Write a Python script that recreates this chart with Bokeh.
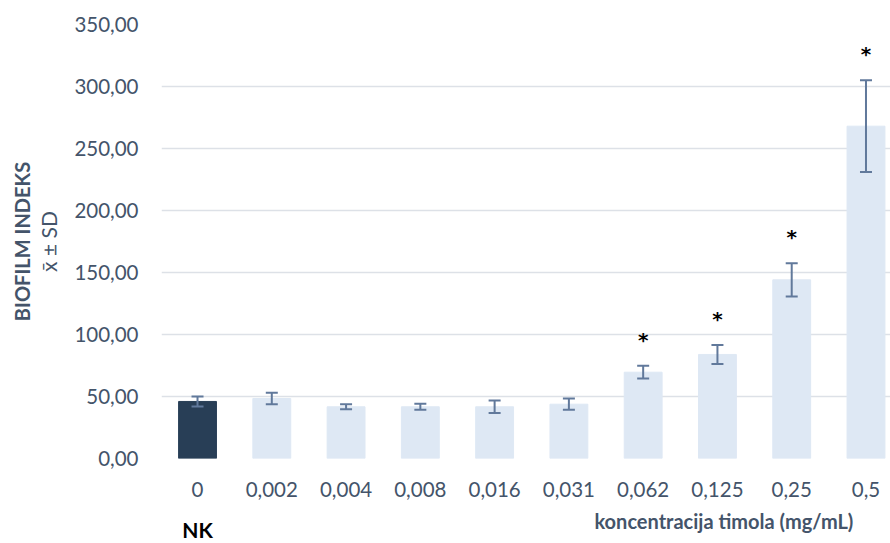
from bokeh.plotting import figure
from bokeh.layouts import column
from bokeh.models import (ColumnDataSource, Range1d, FixedTicker, Whisker, TeeHead,
                          LinearAxis, CustomJSTickFormatter)
from bokeh.core.properties import value
from bokeh.embed import file_html
from bokeh.resources import INLINE

# ---- data ----
categories = ["0", "0,002", "0,004", "0,008", "0,016", "0,031", "0,062", "0,125", "0,25", "0,5"]
means = [46.0, 48.4, 41.7, 41.7, 41.7, 43.8, 69.6, 83.9, 144.1, 268.0]
sds = [4.0, 4.6, 2.0, 2.4, 5.0, 4.5, 5.1, 7.6, 13.4, 37.0]
significant = [False, False, False, False, False, False, True, True, True, True]
y_ticks = [0, 50, 100, 150, 200, 250, 300, 350]

FONT = "Lato"
TXT = "#44546A"
DARK = "#283E56"
LIGHT = "#DEE8F4"
ERR = "#61799B"

xs = list(range(len(categories)))
colors = [DARK] + [LIGHT] * (len(categories) - 1)
src = ColumnDataSource(dict(
    x=xs, top=means, color=colors,
    upper=[m + s for m, s in zip(means, sds)],
    lower=[m - s for m, s in zip(means, sds)],
))
star_src = ColumnDataSource(dict(
    x=[x for x, s in zip(xs, significant) if s],
    y=[m + sd for m, sd, s in zip(means, sds, significant) if s],
    t=["*" for s in significant if s],
))

x_range = Range1d(-0.485, 9.33)
p = figure(width=890, height=505, output_backend="svg", toolbar_location=None,
           x_range=x_range, y_range=Range1d(0, 350),
           min_border_left=161, min_border_right=0, min_border_top=24, min_border_bottom=47)
p.outline_line_color = None

p.vbar(x="x", top="top", width=0.51, color="color", source=src)
p.add_layout(Whisker(source=src, base="x", upper="upper", lower="lower", level="overlay",
                     line_color=ERR, line_width=2,
                     upper_head=TeeHead(size=12, line_color=ERR, line_width=2),
                     lower_head=TeeHead(size=12, line_color=ERR, line_width=2)))
p.text(x="x", y="y", text="t", source=star_src, text_font=value("DejaVu Sans"),
       text_font_size="20px", text_font_style="bold", text_color="black",
       text_align="center", text_baseline="middle", y_offset=-26)

# axes
p.xaxis.ticker = FixedTicker(ticks=xs)
p.xaxis.major_label_overrides = {i: c for i, c in enumerate(categories)}
p.yaxis.ticker = FixedTicker(ticks=y_ticks)
p.yaxis.formatter = CustomJSTickFormatter(code="return tick.toFixed(2).replace('.', ',');")
p.yaxis.axis_label = "x\u0304 \u00b1 SD"
p.yaxis.axis_label_text_font = FONT
p.yaxis.axis_label_text_font_size = "21px"
p.yaxis.axis_label_text_font_style = "normal"
p.yaxis.axis_label_text_color = TXT
p.yaxis.axis_label_standoff = 10

outer = LinearAxis(ticker=FixedTicker(ticks=[]), axis_label="BIOFILM INDEKS",
                   axis_label_text_font=FONT, axis_label_text_font_size="20px",
                   axis_label_text_font_style="bold", axis_label_text_color=TXT,
                   axis_label_standoff=0, major_label_standoff=22,
                   axis_line_color=None, major_tick_line_color=None,
                   minor_tick_line_color=None, major_label_text_font_size="1px")
p.add_layout(outer, "left")

for ax in (p.xaxis, p.yaxis):
    ax.axis_line_color = None
    ax.major_tick_line_color = None
    ax.minor_tick_line_color = None
    ax.major_tick_out = 0
    ax.major_tick_in = 0
    ax.major_label_text_font = FONT
    ax.major_label_text_font_size = "20.5px"
    ax.major_label_text_color = TXT
p.xaxis.major_label_standoff = 23
p.yaxis[0].major_label_standoff = 23

p.xgrid.grid_line_color = None
p.ygrid.grid_line_color = "#DDE1E7"
p.ygrid.grid_line_width = 1.5
p.ygrid.ticker = FixedTicker(ticks=y_ticks)

# bottom strip with the group label and the axis title
p2 = figure(width=890, height=38, output_backend="svg", toolbar_location=None,
            x_range=x_range, y_range=Range1d(0, 38),
            x_axis_location=None, y_axis_location=None,
            min_border_left=161, min_border_right=0, min_border_top=0, min_border_bottom=0)
p2.outline_line_color = None
p2.grid.grid_line_color = None
p2.text(x=[0], y=[14], text=["NK"], text_font=value(FONT), text_font_size="21px",
        text_font_style="bold", text_color="black", text_align="center",
        text_baseline="alphabetic")
p2.text(x=[8.83], y=[23], text=["koncentracija timola (mg/mL)"], text_font=value(FONT),
        text_font_size="20px", text_font_style="bold", text_color=TXT,
        text_align="right", text_baseline="alphabetic")

layout = column(p, p2, spacing=0)
open("out.html", "w").write(file_html(layout, INLINE))
